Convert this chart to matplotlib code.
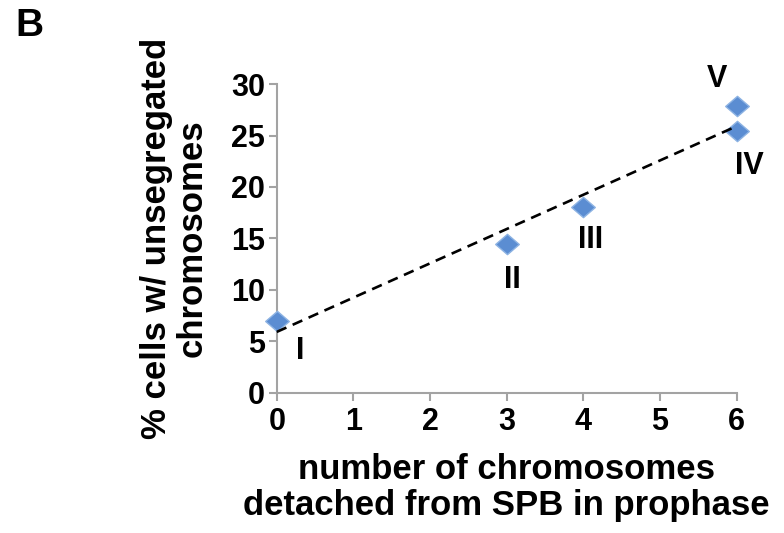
import numpy as np
import matplotlib
matplotlib.use("Agg")
import matplotlib.pyplot as plt
from matplotlib.path import Path

x_vals = [0, 3, 4, 6, 6]
y_vals = [7.0, 14.5, 18.1, 25.4, 27.9]
point_labels = ["I", "II", "III", "IV", "V"]
label_pos = [(0.30, 4.1), (3.08, 11.0), (4.09, 14.8), (6.17, 22.0), (5.74, 30.5)]
x_ticks = [0, 1, 2, 3, 4, 5, 6]
y_ticks = [0, 5, 10, 15, 20, 25, 30]

FONT = "Liberation Sans"

fig = plt.figure(figsize=(7.84, 5.33), dpi=100)
ax = fig.add_axes([0.353, 0.2632, 0.5867, 0.579])

diamond = Path([(-1, 0), (0, 0.86), (1, 0), (0, -0.86), (-1, 0)],
               [Path.MOVETO, Path.LINETO, Path.LINETO, Path.LINETO, Path.CLOSEPOLY])

ax.plot(x_vals, y_vals, linestyle="none", marker=diamond, markersize=17,
        markerfacecolor="#5B8DD2", markeredgecolor="#8DB3E3", markeredgewidth=1.0,
        zorder=3, clip_on=False)

slope, intercept = np.polyfit(x_vals, y_vals, 1)
xs = np.array([0, 6])
ax.plot(xs, slope * xs + intercept, color="black", linestyle=(0, (4.0, 2.6)),
        linewidth=1.9, zorder=4, clip_on=False)

for lab, (lx, ly) in zip(point_labels, label_pos):
    ax.text(lx, ly, lab, ha="center", va="center", fontsize=22,
            fontweight="bold", family=FONT, color="black")

ax.set_xlim(0, 6)
ax.set_ylim(0, 30)
ax.set_xticks(x_ticks)
ax.set_yticks(y_ticks)
for sp in ["top", "right"]:
    ax.spines[sp].set_visible(False)
for sp in ["left", "bottom"]:
    ax.spines[sp].set_color("#A3A3A3")
    ax.spines[sp].set_linewidth(1.5)
ax.tick_params(axis="both", direction="out", length=5.5, width=1.5, color="#A3A3A3",
               labelsize=22)
ax.tick_params(axis="x", pad=5)
ax.tick_params(axis="y", pad=3)
for t in ax.get_xticklabels() + ax.get_yticklabels():
    t.set_fontweight("bold")
    t.set_family(FONT)

ax.set_xlabel("number of chromosomes\ndetached from SPB in prophase", fontsize=25,
              fontweight="bold", family=FONT, labelpad=11, linespacing=1.15)
ax.set_ylabel("% cells w/ unsegregated\nchromosomes", fontsize=25,
              fontweight="bold", family=FONT, labelpad=16, linespacing=1.1)

fig.text(0.019, 0.985, "B", fontsize=28, fontweight="bold", family=FONT,
         va="top", ha="left")

fig.savefig("out.png", dpi=100)
